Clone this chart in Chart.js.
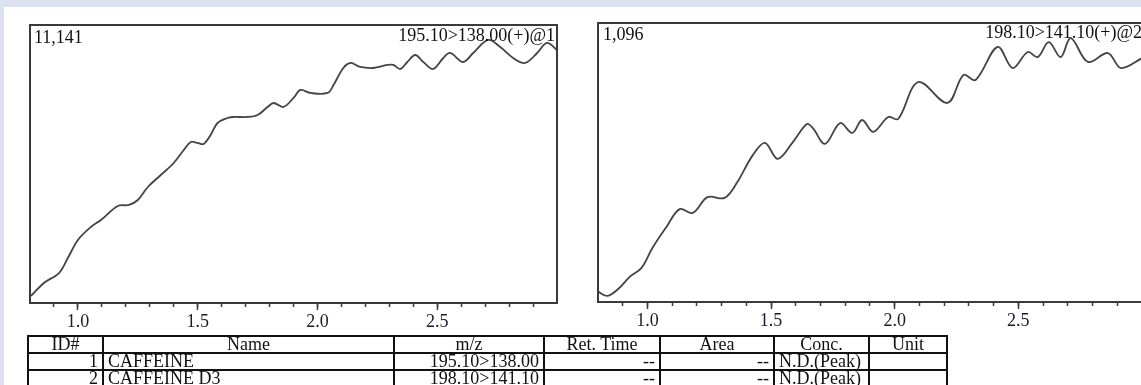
<!DOCTYPE html>
<html>
<head>
<meta charset="utf-8">
<script src="https://cdn.jsdelivr.net/npm/chart.js@4.4.0/dist/chart.umd.min.js"></script>
<style>
  body { margin:0; width:1141px; height:385px; overflow:hidden; background:#fff; position:relative;
         font-family:"Liberation Serif","Times New Roman",serif; color:#111; }
  .band-top { position:absolute; left:0; top:0; width:1141px; height:7px; background:#dde1ef; }
  .band-left { position:absolute; left:0; top:0; width:4px; height:385px; background:#dde1ef; }
  canvas { position:absolute; top:0; }
  #c1 { left:0; }
  #c2 { left:560px; }
  .lbl { position:absolute; font-size:18px; line-height:18px; white-space:nowrap; color:#111; }
  table { position:absolute; left:27px; top:335px; border-collapse:collapse; table-layout:fixed;
          width:919px; font-size:18px; }
  td, th { border:2px solid #111; padding:0 4px; height:15px; line-height:15px; font-weight:normal;
           white-space:nowrap; overflow:hidden; }
  th { text-align:center; }
  td.r { text-align:right; }
  td.l { text-align:left; }
</style>
</head>
<body>
<div class="band-top"></div>
<div class="band-left"></div>
<canvas id="c1" width="580" height="340"></canvas>
<canvas id="c2" width="600" height="340"></canvas>
<div class="lbl" id="max1" style="left:34px; top:28px;"></div>
<div class="lbl" id="mrm1" style="right:586px; top:26px;"></div>
<div class="lbl" id="max2" style="left:603px; top:25px;"></div>
<div class="lbl" id="mrm2" style="right:-1px; top:23px;"></div>
<table id="tbl"></table>
<script>
// retention time (min) and intensity
const rt1 = [0.804, 0.858, 0.921, 0.958, 1.000, 1.054, 1.096, 1.167, 1.213, 1.250, 1.292, 1.346, 1.400,
  1.442, 1.471, 1.500, 1.525, 1.554, 1.583, 1.625, 1.650, 1.708, 1.750, 1.792, 1.817, 1.858, 1.900,
  1.929, 1.971, 2.042, 2.067, 2.108, 2.138, 2.179, 2.233, 2.292, 2.317, 2.346, 2.375, 2.408, 2.442,
  2.483, 2.525, 2.554, 2.608, 2.650, 2.713, 2.763, 2.817, 2.867, 2.917, 2.958, 3.000];
const int1 = [281, 802, 1202, 1804, 2525, 3046, 3327, 3888, 3928, 4128, 4649, 5130, 5611,
  6132, 6453, 6413, 6373, 6733, 7214, 7415, 7455, 7455, 7535, 7856, 8016, 7856, 8216,
  8537, 8417, 8417, 8737, 9418, 9619, 9459, 9418, 9539, 9539, 9378, 9659, 9939, 9659,
  9378, 9819, 10020, 9659, 10020, 10541, 10260, 9819, 9619, 10020, 10421, 10140];

const rt2 = [0.797, 0.838, 0.886, 0.927, 0.976, 1.020, 1.077, 1.130, 1.183, 1.243, 1.312, 1.361,
  1.426, 1.475, 1.527, 1.588, 1.645, 1.669, 1.718, 1.779, 1.828, 1.868, 1.913, 1.974, 2.014,
  2.095, 2.213, 2.278, 2.327, 2.416, 2.477, 2.538, 2.578, 2.623, 2.671, 2.712, 2.781, 2.862,
  2.915, 3.000];
const int2 = [43, 24, 55, 98, 134, 212, 295, 365, 350, 412, 409, 467,
  577, 625, 562, 628, 699, 683, 621, 703, 664, 715, 668, 727, 719,
  864, 782, 892, 872, 1002, 919, 982, 962, 1021, 962, 1037, 943, 978,
  919, 958];

const maxIntensity = [11141, 1096];
const transitions = ['195.10>138.00(+)@1', '198.10>141.10(+)@2'];

const majorTicks = [1.0, 1.5, 2.0, 2.5];
const minorTicks = [0.9, 1.0, 1.1, 1.2, 1.3, 1.4, 1.5, 1.6, 1.7, 1.8, 1.9, 2.0,
  2.1, 2.2, 2.3, 2.4, 2.5, 2.6, 2.7, 2.8, 2.9];

// compound table
const headers = ['ID#', 'Name', 'm/z', 'Ret. Time', 'Area', 'Conc.', 'Unit'];
const colWidths = [75, 291, 150, 116, 114, 95, 78];
const ids = [1, 2];
const names = ['CAFFEINE', 'CAFFEINE D3'];
const mzs = ['195.10>138.00', '198.10>141.10'];
const retTimes = ['--', '--'];
const areas = ['--', '--'];
const concs = ['N.D.(Peak)', 'N.D.(Peak)'];
const units = ['', ''];

const lineColor = '#3a3a3a';
const serif = '"Liberation Serif", "Times New Roman", serif';

const framePlugin = {
  id: 'frame',
  afterDraw(chart) {
    const a = chart.chartArea, c = chart.ctx;
    c.save();
    c.strokeStyle = lineColor;
    c.lineWidth = 2;
    c.strokeRect(a.left, a.top, a.right - a.left, a.bottom - a.top);
    c.restore();
  }
};

function makeChart(id, times, values, yMax, pad, axisH) {
  return new Chart(document.getElementById(id), {
    type: 'line',
    data: {
      datasets: [{
        data: times.map((t, i) => ({ x: t, y: values[i] })),
        borderColor: '#444',
        borderWidth: 1.8,
        pointRadius: 0,
        fill: false,
        tension: 0.35
      }]
    },
    options: {
      responsive: false,
      animation: false,
      events: [],
      layout: { padding: pad },
      plugins: { legend: { display: false }, tooltip: { enabled: false } },
      scales: {
        x: {
          type: 'linear', position: 'bottom', min: 0.8, max: 3.0, weight: 1,
          grid: { drawOnChartArea: false, tickLength: 7, tickColor: lineColor, tickWidth: 1.5 },
          border: { display: false },
          ticks: {
            autoSkip: false, maxRotation: 0, padding: 1, color: '#1a1a2a',
            font: { family: serif, size: 18 },
            callback: v => v.toFixed(1)
          },
          afterBuildTicks: s => { s.ticks = majorTicks.map(v => ({ value: v })); },
          afterFit: s => { s.height = axisH; }
        },
        minor: {
          type: 'linear', axis: 'x', position: 'bottom', min: 0.8, max: 3.0, weight: 0,
          grid: { drawOnChartArea: false, tickLength: 4, tickColor: lineColor, tickWidth: 1.5 },
          border: { display: false },
          ticks: { display: false },
          afterBuildTicks: s => { s.ticks = minorTicks.map(v => ({ value: v })); },
          afterFit: s => { s.height = 0; }
        },
        y: { display: false, min: 0, max: yMax }
      }
    },
    plugins: [framePlugin]
  });
}

makeChart('c1', rt1, int1, maxIntensity[0], { left: 30, top: 25, right: 23, bottom: 0 }, 37);
makeChart('c2', rt2, int2, maxIntensity[1], { left: 38, top: 23, right: 18, bottom: 0 }, 38);

document.getElementById('max1').textContent = maxIntensity[0].toLocaleString('en-US');
document.getElementById('max2').textContent = maxIntensity[1].toLocaleString('en-US');
document.getElementById('mrm1').textContent = transitions[0];
document.getElementById('mrm2').textContent = transitions[1];

// build the table
const tbl = document.getElementById('tbl');
let html = '<colgroup>' + colWidths.map(w => '<col style="width:' + w + 'px">').join('') + '</colgroup>';
html += '<tr>' + headers.map(h => '<th>' + h + '</th>').join('') + '</tr>';
ids.forEach((id, i) => {
  html += '<tr>' +
    '<td class="r">' + id + '</td>' +
    '<td class="l">' + names[i] + '</td>' +
    '<td class="r">' + mzs[i] + '</td>' +
    '<td class="r">' + retTimes[i] + '</td>' +
    '<td class="r">' + areas[i] + '</td>' +
    '<td class="l">' + concs[i] + '</td>' +
    '<td class="l">' + units[i] + '</td>' +
    '</tr>';
});
tbl.innerHTML = html;
</script>
</body>
</html>
